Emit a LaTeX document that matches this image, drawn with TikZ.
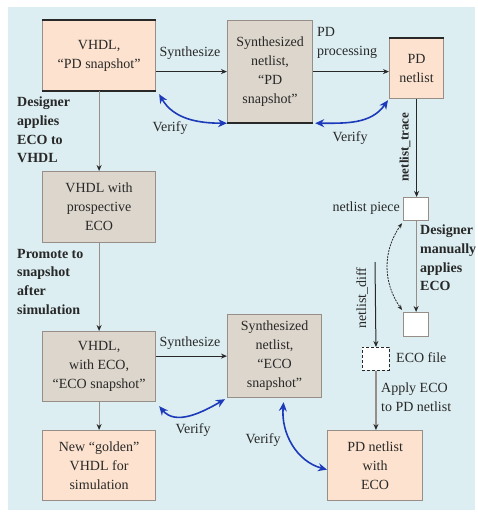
\documentclass[tikz,border=0pt]{standalone}
\usepackage{fontspec}
\setmainfont{Liberation Serif}
\usetikzlibrary{arrows.meta}

\definecolor{bgblue}{RGB}{220,238,242}
\definecolor{peach}{RGB}{253,227,207}
\definecolor{beige}{RGB}{221,214,204}
\definecolor{edgegrey}{RGB}{150,142,135}
\definecolor{verifyblue}{RGB}{28,58,185}
\definecolor{inkgrey}{RGB}{40,40,40}

\tikzset{
  box/.style={draw=edgegrey, line width=1.2pt, anchor=north west, inner sep=2pt,
    align=center, text=inkgrey, font=\fontsize{14}{19}\selectfont},
  peachbox/.style={box, fill=peach},
  beigebox/.style={box, fill=beige},
  piecebox/.style={draw=edgegrey, line width=1.2pt, fill=white, anchor=north west,
    minimum width=25, minimum height=23, inner sep=0pt},
  ecofilebox/.style={piecebox, draw=inkgrey, line width=0.9pt, dash pattern=on 3pt off 2pt},
  darkedge/.style={inkgrey, line width=1.8pt},
  lbl/.style={text=inkgrey, inner sep=0pt, font=\fontsize{14}{18.6}\selectfont},
  boldlbl/.style={lbl, align=left, anchor=north west, font=\fontsize{14}{18.6}\selectfont\bfseries},
  flowarrow/.style={inkgrey, line width=1pt, -{Stealth[length=6pt,width=5pt]}},
  greyarrow/.style={edgegrey, line width=1.2pt, -{Stealth[length=6pt,width=5pt,color=inkgrey]}},
  verifyarrow/.style={verifyblue, line width=1.6pt, {Stealth[length=9pt,width=8pt]}-{Stealth[length=9pt,width=8pt]}},
}

\begin{document}
\begin{tikzpicture}[x=1pt,y=1pt,yscale=-1]
\useasboundingbox (0,0) rectangle (478,512);
%Shape: background
\fill[bgblue] (8,7) rectangle (475,510);

%Shape: boxes
\node[peachbox, minimum width=113, minimum height=70] (vhdlpd) at (42,20) {VHDL,\\“PD snapshot”};
\node[beigebox, minimum width=85, minimum height=102] (synpd) at (227,20) {Synthesized\\netlist,\\“PD\\snapshot”};
\node[peachbox, minimum width=54, minimum height=60] (pdnet) at (389,38) {PD\\netlist};
\node[beigebox, minimum width=113, minimum height=71] (vhdlprop) at (42,171) {VHDL with\\prospective\\ECO};
\node[beigebox, minimum width=113, minimum height=70] (vhdleco) at (42,331) {VHDL,\\with ECO,\\“ECO snapshot”};
\node[peachbox, minimum width=113, minimum height=70] (golden) at (42,430) {New “golden”\\VHDL for\\simulation};
\node[beigebox, minimum width=94, minimum height=83] (syneco) at (227,314) {Synthesized\\netlist,\\“ECO\\snapshot”};
\node[peachbox, minimum width=95, minimum height=70] (pdeco) at (327,430) {PD netlist\\with\\ECO};
\node[piecebox] (piece) at (403,197) {};
\node[piecebox, minimum height=24] (pieceeco) at (403,312) {};
\node[ecofilebox, minimum width=27] (ecofile) at (362,347) {};
\coordinate (diffstart) at (375,262);

%Straight Lines: dark edges
\draw[darkedge] (vhdlpd.north west) -- (vhdlpd.north east);
\draw[darkedge] (vhdlpd.south west) -- (vhdlpd.south east);
\draw[darkedge] (synpd.south west) -- (synpd.south east);
\draw[darkedge] (pdnet.north west) -- (pdnet.north east);

%Straight Lines: flow
\draw[flowarrow] (vhdlpd.east |- synpd.west) -- (synpd.west);
\draw[flowarrow] (synpd.east) -- (synpd.east -| pdnet.west);
\draw[flowarrow] (vhdleco.east |- syneco.west) -- (syneco.west);
\draw[greyarrow] (vhdlpd.south) -- (vhdlprop.north);
\draw[greyarrow] (vhdlprop.south) -- (vhdleco.north);
\draw[greyarrow] (vhdleco.south) -- (golden.north);
\draw[flowarrow] (pdnet.south) -- (pdnet.south |- piece.north);
\draw[greyarrow] (piece.south) -- (pieceeco.north);
\draw[flowarrow] (diffstart) -- (ecofile.north);
\draw[greyarrow] (ecofile.south) -- (ecofile.south |- pdeco.north);
\draw[inkgrey, line width=0.8pt, dash pattern=on 2pt off 1pt, {Stealth[length=5pt,width=4pt]}-{Stealth[length=5pt,width=4pt]}]
  ([shift={(-1,2)}]piece.south west) to[out=125,in=235] ([shift={(-1,-2)}]pieceeco.north west);

%Curve Lines: verify
\draw[verifyarrow] ([shift={(3,3)}]vhdlpd.south east) to[out=60,in=180] (synpd.south west);
\draw[verifyarrow] ([shift={(-1,1)}]pdnet.south west) to[out=125,in=0] ([shift={(2,0)}]synpd.south east);
\draw[verifyarrow] ([shift={(3,4)}]vhdleco.south east) to[out=50,in=150] ([shift={(-2,1)}]syneco.south west);
\draw[verifyarrow] ([shift={(9,4)}]syneco.south) to[out=95,in=195] ([yshift=4]pdeco.west);

% Text Node
\node[lbl] (synlbl) at (190,53) {Synthesize};
\node[lbl, align=left, anchor=west] (pdproclbl) at (317,43) {PD\\processing};
\node[lbl] (verify1) at (170,128) {Verify};
\node[lbl] (verify2) at (350,138) {Verify};
\node[lbl] (synlbl2) at (190,343) {Synthesize};
\node[lbl] (verify3) at (193,430) {Verify};
\node[lbl] (verify4) at (263,440) {Verify};
\node[boldlbl] (applylbl) at (17,97) {Designer\\applies\\ECO to\\VHDL};
\node[boldlbl] (promotelbl) at (17,249) {Promote to\\snapshot\\after\\simulation};
\node[boldlbl] (manuallbl) at (420,225) {Designer\\manually\\applies\\ECO};
\node[lbl, anchor=east] (piecelbl) at (400,208) {netlist piece};
\node[lbl, anchor=west] (ecofilelbl) at (396,358) {ECO file};
\node[lbl, align=left, anchor=north west] (applyecolbl) at (381,383) {Apply ECO\\to PD netlist};
\node[lbl, rotate=90, font=\fontsize{13}{16}\selectfont\bfseries] (tracelbl) at (405,147) {netlist\_trace};
\node[lbl, rotate=90] (difflbl) at (362,298) {netlist\_diff};

\end{tikzpicture}
\end{document}
